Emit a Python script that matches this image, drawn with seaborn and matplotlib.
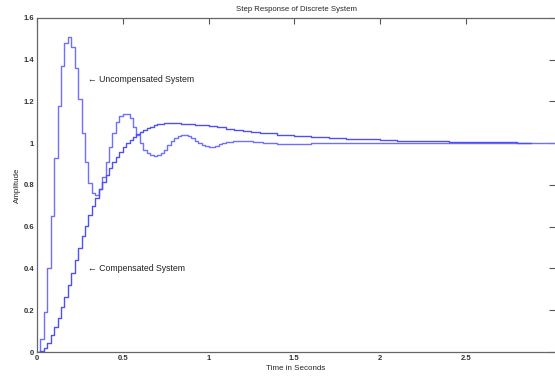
import numpy as np
import pandas as pd
import matplotlib
matplotlib.use("Agg")
import matplotlib.pyplot as plt
import seaborn as sns

# -------------------------
# Data read off the reference (sampled ~0.02 s, sparser once settled)
# -------------------------
t_unc = [0.00, 0.02, 0.04, 0.06, 0.08, 0.10, 0.12, 0.14, 0.16, 0.18,
         0.20, 0.22, 0.24, 0.26, 0.28, 0.30, 0.32, 0.34, 0.36, 0.38,
         0.40, 0.42, 0.44, 0.46, 0.48, 0.50, 0.52, 0.54, 0.56, 0.58,
         0.60, 0.62, 0.64, 0.66, 0.68, 0.70, 0.72, 0.74, 0.76, 0.78,
         0.80, 0.82, 0.84, 0.86, 0.88, 0.90, 0.92, 0.94, 0.96, 0.98,
         1.00, 1.02, 1.04, 1.06, 1.08, 1.10, 1.14, 1.20, 1.26, 1.32,
         1.40, 1.50, 1.60, 1.80, 2.00, 2.40, 2.80, 3.02]
y_unc = [0.00, 0.06, 0.19, 0.40, 0.65, 0.93, 1.18, 1.37, 1.48, 1.51,
         1.46, 1.36, 1.21, 1.05, 0.91, 0.81, 0.76, 0.75, 0.78, 0.84,
         0.91, 0.98, 1.05, 1.10, 1.13, 1.14, 1.14, 1.12, 1.08, 1.04,
         1.00, 0.97, 0.955, 0.945, 0.94, 0.944, 0.955, 0.97, 0.99, 1.01,
         1.025, 1.035, 1.04, 1.04, 1.035, 1.025, 1.01, 1.00, 0.99, 0.985,
         0.983, 0.984, 0.988, 0.994, 1.00, 1.006, 1.01, 1.012, 1.008, 1.002,
         0.998, 0.998, 1.00, 1.00, 1.00, 1.00, 1.00, 1.00]

t_comp = [0.00, 0.02, 0.04, 0.06, 0.08, 0.10, 0.12, 0.14, 0.16, 0.18,
          0.20, 0.22, 0.24, 0.26, 0.28, 0.30, 0.32, 0.34, 0.36, 0.38,
          0.40, 0.42, 0.44, 0.46, 0.48, 0.50, 0.52, 0.54, 0.56, 0.58,
          0.60, 0.62, 0.64, 0.66, 0.68, 0.70, 0.72, 0.74, 0.76, 0.78,
          0.80, 0.84, 0.88, 0.92, 0.96, 1.00, 1.05, 1.10, 1.15, 1.20,
          1.25, 1.30, 1.40, 1.50, 1.60, 1.70, 1.80, 1.90, 2.00, 2.10,
          2.20, 2.30, 2.40, 2.50, 2.60, 2.70, 2.80, 2.88]
y_comp = [0.00, 0.005, 0.02, 0.045, 0.08, 0.12, 0.165, 0.215, 0.265, 0.32,
          0.38, 0.44, 0.50, 0.555, 0.605, 0.655, 0.70, 0.74, 0.78, 0.815,
          0.85, 0.88, 0.91, 0.935, 0.96, 0.98, 1.00, 1.015, 1.03, 1.045,
          1.055, 1.065, 1.073, 1.08, 1.085, 1.09, 1.093, 1.095, 1.097, 1.097,
          1.096, 1.094, 1.091, 1.088, 1.085, 1.081, 1.076, 1.07, 1.064, 1.058,
          1.052, 1.047, 1.04, 1.033, 1.028, 1.024, 1.021, 1.018, 1.016, 1.013,
          1.011, 1.009, 1.007, 1.006, 1.005, 1.004, 1.003, 1.003]

x_ticks = [0, 0.5, 1, 1.5, 2, 2.5]
x_tick_labels = ["0", "0.5", "1", "1.5", "2", "2.5"]
y_ticks = [0, 0.2, 0.4, 0.6, 0.8, 1.0, 1.2, 1.4, 1.6]
y_tick_labels = ["0", "0.2", "0.4", "0.6", "0.8", "1", "1.2", "1.4", "1.6"]

df = pd.concat([
    pd.DataFrame({"t": t_unc, "y": y_unc, "system": "Uncompensated"}),
    pd.DataFrame({"t": t_comp, "y": y_comp, "system": "Compensated"}),
], ignore_index=True)

# -------------------------
# Plot
# -------------------------
sns.set_style("white")
plt.rcParams["font.family"] = ["Liberation Sans", "DejaVu Sans"]

fig = plt.figure(figsize=(5.55, 3.77), dpi=100)
ax = fig.add_axes([0.0667, 0.0663, 0.9333, 0.8860])

sns.lineplot(data=df, x="t", y="y", hue="system", estimator=None, sort=False,
             palette={"Uncompensated": "#7070ff", "Compensated": "#4f4ff5"},
             drawstyle="steps-post", linewidth=1.0, legend=False, ax=ax)

ax.set_xlim(0, 3.02)
ax.set_ylim(0, 1.6)
ax.set_xticks(x_ticks)
ax.set_xticklabels(x_tick_labels)
ax.set_yticks(y_ticks)
ax.set_yticklabels(y_tick_labels)
ax.tick_params(direction="in", length=4, width=0.8, color="#555555",
               labelsize=5.5, labelcolor="#333333", top=True, right=True, pad=2)
for lbl in ax.get_xticklabels() + ax.get_yticklabels():
    lbl.set_fontweight("bold")
for s in ["left", "bottom", "top"]:
    ax.spines[s].set_color("#666666")
    ax.spines[s].set_linewidth(0.9)
ax.spines["right"].set_visible(False)

ax.set_title("Step Response of Discrete System", fontsize=5.6, pad=5)
ax.set_xlabel("Time in Seconds", fontsize=5.8, labelpad=2)
ax.set_ylabel("Amplitude", fontsize=5.8, labelpad=2)

ax.text(0.295, 1.303, "\u2190 Uncompensated System", fontsize=6.3,
        va="center", ha="left", color="#222222")
ax.text(0.295, 0.40, "\u2190 Compensated System", fontsize=6.3,
        va="center", ha="left", color="#222222")

plt.savefig("out.png", dpi=100)
